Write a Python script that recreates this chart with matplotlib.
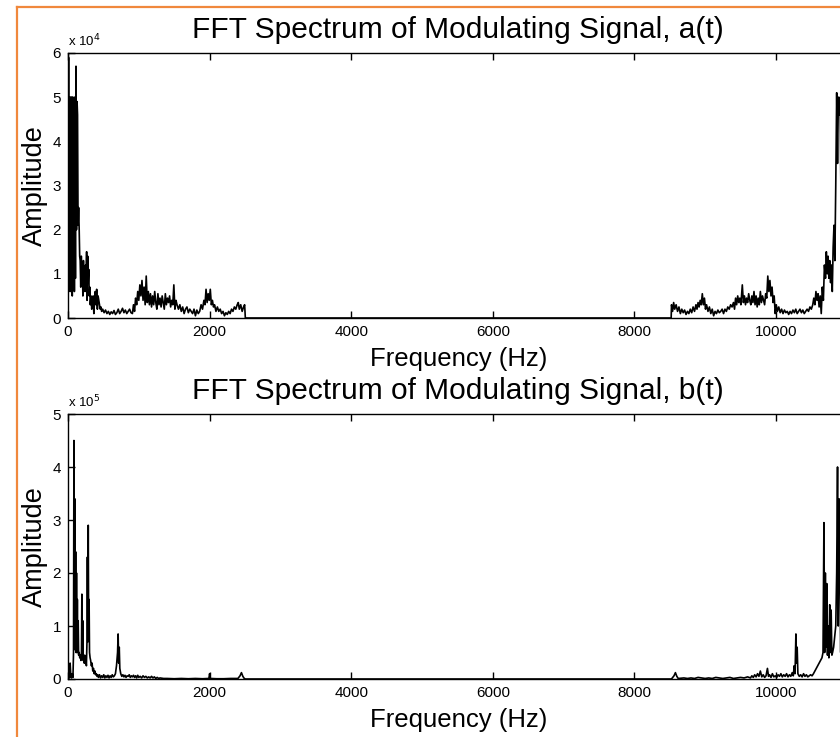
import numpy as np
import matplotlib; matplotlib.use("Agg")
import matplotlib.pyplot as plt
from matplotlib.lines import Line2D

plt.rcParams['font.family'] = ['Liberation Sans', 'DejaVu Sans']

# ---------- data ----------
# a(t) spectrum, amplitude in units of 1e4
freq_a = [0, 8, 15, 22, 30, 37, 44, 52, 60, 67, 75, 82, 90, 97, 105, 113, 120, 128, 135, 142,
          150, 158, 165, 172, 180, 188, 195, 203, 210, 218, 225, 233, 240, 248, 255, 263, 270, 278, 285, 293,
          300, 308, 315, 325, 335, 345, 355, 365, 375, 385, 395, 405, 415, 425, 435, 445, 455, 465, 475, 490,
          510, 530, 550, 570, 590, 610, 630, 650, 670, 690, 710, 730, 750, 770, 790, 810, 830, 850, 870, 890,
          910, 925, 940, 955, 970, 985, 1000, 1015, 1030, 1045, 1060, 1075, 1090, 1105, 1120, 1135, 1150, 1165, 1180, 1195,
          1210, 1225, 1240, 1255, 1270, 1285, 1300, 1315, 1330, 1345, 1360, 1375, 1390, 1405, 1420, 1435, 1450, 1465, 1480, 1495,
          1510, 1525, 1540, 1560, 1580, 1600, 1620, 1640, 1660, 1680, 1700, 1720, 1740, 1760, 1780, 1800, 1820, 1840, 1860, 1880,
          1900, 1920, 1935, 1950, 1965, 1980, 1995, 2010, 2025, 2040, 2055, 2070, 2090, 2110, 2130, 2150, 2170, 2190, 2210, 2230,
          2250, 2270, 2290, 2310, 2330, 2350, 2370, 2390, 2405, 2420, 2440, 2460, 2480, 2495, 2505, 8520,
          8525, 8540, 8555, 8570, 8590, 8610, 8630, 8650, 8670, 8690, 8710, 8730, 8750, 8770, 8790, 8810, 8830, 8850, 8870, 8885,
          8900, 8915, 8930, 8945, 8960, 8975, 8990, 9005, 9020, 9040, 9060, 9080, 9100, 9120, 9140, 9160, 9180, 9200, 9220, 9240,
          9260, 9280, 9300, 9320, 9340, 9360, 9380, 9400, 9415, 9430, 9445, 9460, 9475, 9490, 9505, 9525, 9540, 9555, 9570, 9585,
          9600, 9615, 9630, 9645, 9660, 9675, 9690, 9705, 9720, 9735, 9750, 9765, 9780, 9795, 9810, 9825, 9840, 9855, 9870, 9885,
          9900, 9915, 9930, 9945, 9960, 9975, 9990, 10005, 10020, 10040, 10060, 10080, 10100, 10120, 10140, 10160, 10180, 10200, 10220, 10240,
          10260, 10280, 10300, 10320, 10340, 10360, 10380, 10400, 10420, 10440, 10460, 10480, 10500, 10520, 10535, 10550, 10565, 10580, 10595, 10610,
          10625, 10640, 10655, 10670, 10685, 10700, 10712, 10724, 10736, 10748, 10760, 10772, 10784, 10796, 10808, 10820, 10832, 10845, 10858, 10870,
          10882, 10894, 10906, 10920, 10935, 10950, 10965, 10980, 10995, 11010, 11025]
amp_a = [0.3, 5.9, 0.8, 5.0, 0.6, 5.0, 0.7, 5.0, 0.5, 5.0, 1.0, 4.9, 0.6, 5.0, 0.9, 5.7, 2.0, 4.9, 4.6, 2.1,
         2.5, 2.0, 1.4, 1.3, 0.7, 1.4, 0.9, 1.2, 0.5, 1.3, 0.8, 1.1, 0.6, 1.2, 0.9, 1.5, 0.4, 1.4, 0.8, 1.1,
         0.5, 0.7, 0.3, 0.5, 0.2, 0.3, 0.5, 0.1, 0.4, 0.6, 0.3, 0.65, 0.2, 0.5, 0.4, 0.3, 0.2, 0.25, 0.15, 0.2,
         0.12, 0.18, 0.1, 0.15, 0.08, 0.14, 0.1, 0.17, 0.08, 0.12, 0.2, 0.1, 0.15, 0.22, 0.12, 0.18, 0.1, 0.15, 0.2, 0.12,
         0.1, 0.3, 0.15, 0.45, 0.3, 0.6, 0.4, 0.75, 0.5, 0.85, 0.4, 0.7, 0.3, 0.95, 0.35, 0.6, 0.3, 0.55, 0.25, 0.5,
         0.3, 0.6, 0.35, 0.2, 0.55, 0.3, 0.45, 0.25, 0.5, 0.35, 0.2, 0.55, 0.3, 0.45, 0.35, 0.5, 0.25, 0.4, 0.3, 0.75,
         0.2, 0.4, 0.3, 0.2, 0.3, 0.15, 0.25, 0.1, 0.2, 0.25, 0.12, 0.2, 0.15, 0.1, 0.2, 0.05, 0.18, 0.1, 0.15, 0.3,
         0.2, 0.4, 0.3, 0.65, 0.35, 0.55, 0.4, 0.65, 0.3, 0.4, 0.25, 0.3, 0.15, 0.25, 0.15, 0.2, 0.1, 0.15, 0.05, 0.12,
         0.08, 0.15, 0.1, 0.2, 0.15, 0.25, 0.2, 0.3, 0.35, 0.2, 0.3, 0.15, 0.25, 0.3, 0.0, 0.0,
         0.3, 0.15, 0.35, 0.2, 0.3, 0.15, 0.25, 0.1, 0.2, 0.12, 0.18, 0.08, 0.15, 0.1, 0.2, 0.12, 0.25, 0.15, 0.3, 0.2,
         0.35, 0.25, 0.4, 0.3, 0.55, 0.3, 0.45, 0.2, 0.3, 0.15, 0.25, 0.1, 0.2, 0.05, 0.15, 0.1, 0.18, 0.12, 0.15, 0.2,
         0.1, 0.2, 0.15, 0.25, 0.2, 0.3, 0.25, 0.35, 0.2, 0.45, 0.3, 0.5, 0.35, 0.45, 0.3, 0.75, 0.35, 0.5, 0.3, 0.45,
         0.35, 0.55, 0.4, 0.3, 0.5, 0.35, 0.6, 0.3, 0.5, 0.25, 0.45, 0.3, 0.6, 0.35, 0.5, 0.4, 0.3, 0.55, 0.45, 0.95,
         0.6, 0.85, 0.5, 0.7, 0.35, 0.5, 0.1, 0.3, 0.15, 0.25, 0.12, 0.2, 0.1, 0.18, 0.12, 0.15, 0.08, 0.15, 0.1, 0.18,
         0.12, 0.2, 0.1, 0.15, 0.2, 0.12, 0.18, 0.1, 0.15, 0.2, 0.15, 0.25, 0.2, 0.3, 0.45, 0.3, 0.6, 0.4, 0.55, 0.25,
         0.5, 0.1, 0.7, 0.4, 1.2, 0.9, 1.5, 1.0, 1.4, 0.9, 1.3, 0.8, 1.2, 0.6, 1.6, 2.1, 1.3, 3.0, 5.1, 3.5,
         5.0, 4.6, 5.0, 2.5, 5.7, 4.9, 5.0, 0.6, 5.0, 5.9, 0.3]

# b(t) spectrum, amplitude in units of 1e5
freq_b = [0, 10, 20, 30, 40, 50, 60, 70, 78, 84, 90, 96, 102, 108, 114, 120, 126, 132, 138, 144,
          150, 158, 166, 174, 182, 190, 196, 202, 208, 214, 220, 228, 236, 244, 252, 260, 268, 274, 280, 286,
          292, 298, 304, 312, 320, 330, 340, 350, 360, 370, 380, 390, 400, 410, 420, 430, 445, 460, 475, 490,
          505, 520, 535, 550, 565, 580, 595, 610, 625, 640, 655, 670, 685, 700, 708, 716, 724, 732, 745, 760,
          775, 790, 805, 820, 835, 850, 865, 880, 895, 910, 925, 940, 955, 970, 985, 1000, 1020, 1040, 1060, 1080,
          1100, 1120, 1140, 1160, 1180, 1200, 1220, 1240, 1260, 1280, 1300, 1350, 1400, 1500, 1600, 1700, 1800, 1900, 1990, 2000,
          2010, 2100, 2200, 2300, 2400, 2430, 2450, 2470, 2490, 2505, 8520,
          8530, 8560, 8580, 8600, 8620, 8700, 8750, 8800, 8850, 8900, 8950, 9000, 9050, 9100, 9150, 9200, 9250, 9300, 9350, 9400,
          9450, 9500, 9550, 9600, 9640, 9660, 9680, 9700, 9720, 9740, 9760, 9780, 9800, 9820, 9840, 9860, 9880, 9895, 9910, 9930,
          9950, 9970, 9990, 10010, 10030, 10050, 10070, 10090, 10110, 10130, 10150, 10170, 10190, 10210, 10230, 10245, 10258, 10270, 10282, 10292,
          10300, 10310, 10330, 10350, 10370, 10390, 10410, 10430, 10450, 10470, 10490, 10510, 10530, 10550, 10570, 10590, 10610, 10630, 10650, 10665,
          10678, 10688, 10698, 10708, 10718, 10728, 10738, 10748, 10760, 10770, 10780, 10790, 10800, 10815, 10830, 10845, 10858, 10870, 10880, 10890,
          10900, 10915, 10930, 10945, 10960, 10975, 10990, 11005, 11025]
amp_b = [0.05, 0.25, 0.02, 0.3, 0.05, 0.02, 0.1, 0.03, 0.5, 4.5, 0.6, 3.4, 0.55, 2.4, 0.5, 2.0, 0.5, 1.5, 0.5, 1.1,
         0.45, 0.5, 0.4, 0.45, 0.35, 0.45, 1.6, 0.4, 1.1, 0.35, 0.4, 0.3, 0.45, 0.3, 0.35, 0.25, 0.7, 2.3, 0.7, 2.9,
         0.8, 1.5, 0.5, 0.4, 0.35, 0.25, 0.3, 0.15, 0.2, 0.1, 0.15, 0.08, 0.1, 0.05, 0.08, 0.03, 0.08, 0.02, 0.06, 0.03,
         0.08, 0.02, 0.06, 0.03, 0.07, 0.02, 0.06, 0.03, 0.08, 0.04, 0.06, 0.1, 0.25, 0.5, 0.85, 0.3, 0.6, 0.2, 0.1, 0.05,
         0.08, 0.04, 0.07, 0.03, 0.06, 0.05, 0.08, 0.03, 0.06, 0.04, 0.07, 0.03, 0.06, 0.02, 0.07, 0.03, 0.05, 0.02, 0.06, 0.03,
         0.05, 0.02, 0.04, 0.02, 0.05, 0.02, 0.04, 0.01, 0.03, 0.01, 0.02, 0.01, 0.01, 0.005, 0.01, 0.005, 0.01, 0.005, 0.01, 0.1,
         0.01, 0.005, 0.005, 0.01, 0.01, 0.06, 0.12, 0.05, 0.01, 0.0, 0.0,
         0.01, 0.06, 0.12, 0.05, 0.01, 0.02, 0.01, 0.02, 0.01, 0.03, 0.02, 0.01, 0.02, 0.01, 0.03, 0.02, 0.01, 0.02, 0.03, 0.01,
         0.02, 0.03, 0.02, 0.04, 0.02, 0.06, 0.03, 0.08, 0.04, 0.1, 0.05, 0.15, 0.04, 0.08, 0.03, 0.06, 0.2, 0.05, 0.08, 0.03,
         0.1, 0.04, 0.06, 0.03, 0.08, 0.05, 0.1, 0.04, 0.08, 0.05, 0.1, 0.04, 0.08, 0.05, 0.12, 0.06, 0.25, 0.1, 0.85, 0.3,
         0.6, 0.1, 0.05, 0.08, 0.04, 0.1, 0.05, 0.08, 0.04, 0.06, 0.08, 0.06, 0.1, 0.15, 0.2, 0.25, 0.3, 0.35, 0.4, 0.5,
         2.95, 0.5, 2.0, 0.6, 1.8, 0.45, 1.0, 0.4, 1.4, 0.5, 1.3, 0.45, 0.5, 0.6, 0.8, 1.0, 2.0, 4.0, 1.0, 3.4,
         2.4, 0.5, 2.9, 2.3, 0.4, 4.5, 3.4, 0.3, 0.05]

xticks = [0, 2000, 4000, 6000, 8000, 10000]
panels = [
    ("FFT Spectrum of Modulating Signal, a(t)", freq_a, amp_a, 1e4, 4, [0, 1, 2, 3, 4, 5, 6]),
    ("FFT Spectrum of Modulating Signal, b(t)", freq_b, amp_b, 1e5, 5, [0, 1, 2, 3, 4, 5]),
]

# ---------- figure ----------
fig = plt.figure(figsize=(8.4, 7.37), dpi=100)
W, H = 840.0, 737.0
# axes boxes in pixels: left, top, right, bottom (right edge runs past the crop)
boxes = [(68, 53, 848.5, 318), (68, 414, 848.5, 679)]

for (title, f, a, scale, expo, yt), (l, t, r, b) in zip(panels, boxes):
    ax = fig.add_axes([l / W, 1 - b / H, (r - l) / W, (b - t) / H])
    ax.plot(f, np.array(a) * scale, color='black', lw=1.2)
    ax.set_xlim(0, 11025)
    ax.set_ylim(0, yt[-1] * scale)
    ax.set_xticks(xticks)
    ax.set_xticklabels([str(x) for x in xticks])
    ax.set_yticks([v * scale for v in yt])
    ax.set_yticklabels([str(v) for v in yt])
    ax.tick_params(direction='in', length=5, width=1, top=True, right=True,
                   labelsize=11, pad=5)
    for s in ax.spines.values():
        s.set_linewidth(1.0)
    ax.set_title(title, fontsize=21.5, pad=11)
    ax.set_xlabel("Frequency (Hz)", fontsize=18.5, labelpad=6)
    ax.set_ylabel("Amplitude", fontsize=19.5, labelpad=3)
    ax.text(0.0, 1.015, r"x 10$^{%d}$" % expo, transform=ax.transAxes,
            fontsize=9.5, ha='left', va='bottom')

# orange frame on the left and top edge of the crop
fig.add_artist(Line2D([16.5 / W, 16.5 / W], [0, 1 - 7 / H], color='#f0883c', lw=1.6))
fig.add_artist(Line2D([16.5 / W, 1], [1 - 7 / H, 1 - 7 / H], color='#f0883c', lw=1.6))

fig.savefig("out.png", dpi=100)
